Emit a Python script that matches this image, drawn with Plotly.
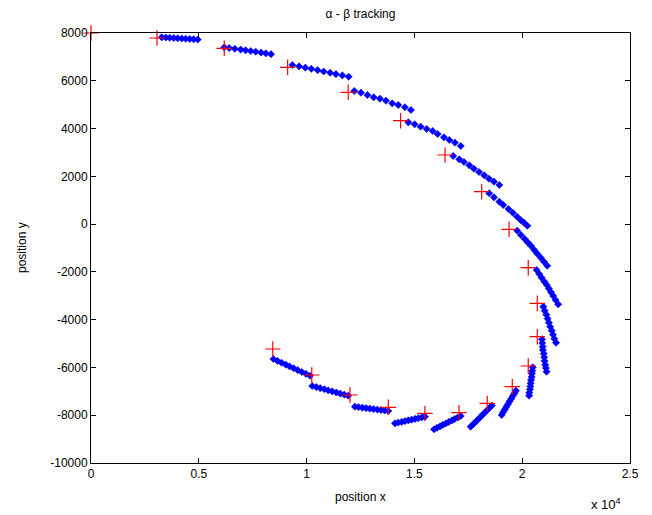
import plotly.graph_objects as go

# Measurements (red +)
meas_x = [0, 3060, 6180, 9120, 11930, 14360, 16420, 18120, 19390, 20280, 20700,
          20700, 20280, 19540, 18380, 17070, 15490, 13790, 12010, 10240, 8430]
meas_y = [8000, 7790, 7360, 6564, 5518, 4329, 2893, 1357, -217, -1825, -3315,
          -4713, -5940, -6806, -7502, -7894, -7921, -7669, -7153, -6316, -5228]

# Alpha-beta estimates / predictions (blue), one list per segment
est_x = [
    [3280, 3470, 3650, 3840, 4020, 4210, 4390, 4580, 4760, 4950],
    [6180, 6410, 6670, 6940, 7170, 7410, 7640, 7890, 8110, 8350],
    [9340, 9650, 9940, 10220, 10510, 10790, 11090, 11360, 11660, 11950],
    [12210, 12520, 12820, 13110, 13400, 13680, 13970, 14250, 14560, 14840],
    [14720, 15010, 15290, 15570, 15850, 16080, 16370, 16620, 16880, 17150],
    [16800, 17080, 17300, 17550, 17760, 18000, 18240, 18460, 18690, 18940],
    [18470, 18690, 18940, 19120, 19360, 19560, 19760, 19930, 20080, 20240],
    [19770, 19940, 20120, 20270, 20410, 20560, 20700, 20860, 21010, 21160],
    [20670, 20790, 20900, 21030, 21140, 21240, 21340, 21440, 21550, 21670],
    [20980, 21040, 21120, 21180, 21240, 21300, 21370, 21430, 21490, 21570],
    [20920, 20930, 20950, 20960, 21000, 21020, 21040, 21070, 21100, 21130],
    [20490, 20470, 20450, 20440, 20410, 20390, 20380, 20360, 20330, 20320],
    [19710, 19640, 19560, 19490, 19410, 19340, 19260, 19190, 19110, 19050],
    [18590, 18480, 18370, 18260, 18150, 18050, 17940, 17830, 17720, 17610],
    [17150, 17010, 16870, 16740, 16600, 16460, 16320, 16190, 16050, 15910],
    [15490, 15340, 15180, 15030, 14870, 14720, 14560, 14410, 14250, 14100],
    [13790, 13620, 13450, 13280, 13100, 12930, 12760, 12590, 12410, 12240],
    [11930, 11750, 11560, 11380, 11190, 11000, 10820, 10630, 10450, 10260],
    [10160, 9970, 9780, 9590, 9400, 9210, 9030, 8840, 8650, 8460],
]
est_y = [
    [7820, 7810, 7800, 7790, 7780, 7770, 7760, 7750, 7740, 7728],
    [7400, 7370, 7340, 7305, 7275, 7245, 7215, 7180, 7150, 7115],
    [6660, 6605, 6550, 6500, 6445, 6390, 6335, 6280, 6225, 6170],
    [5572, 5501, 5405, 5308, 5250, 5166, 5057, 4986, 4890, 4777],
    [4262, 4178, 4078, 3981, 3898, 3772, 3634, 3521, 3408, 3270],
    [2851, 2713, 2600, 2462, 2319, 2181, 2043, 1899, 1776, 1637],
    [1290, 1122, 938, 800, 632, 478, 310, 172, 59, -67],
    [-276, -456, -623, -778, -916, -1084, -1239, -1406, -1574, -1741],
    [-1921, -2088, -2243, -2410, -2548, -2703, -2854, -3009, -3177, -3357],
    [-3457, -3625, -3792, -3960, -4127, -4295, -4462, -4630, -4797, -4965],
    [-4822, -4977, -5131, -5270, -5424, -5575, -5730, -5885, -6023, -6178],
    [-5995, -6137, -6262, -6400, -6526, -6664, -6790, -6915, -7057, -7183],
    [-6973, -7086, -7199, -7312, -7425, -7538, -7651, -7764, -7877, -7991],
    [-7600, -7698, -7796, -7894, -7992, -8090, -8188, -8286, -8384, -8480],
    [-8033, -8095, -8157, -8218, -8280, -8342, -8404, -8465, -8527, -8589],
    [-8062, -8093, -8123, -8154, -8185, -8215, -8246, -8277, -8307, -8338],
    [-7823, -7803, -7783, -7763, -7743, -7723, -7703, -7683, -7663, -7643],
    [-7183, -7138, -7093, -7048, -7003, -6957, -6912, -6867, -6822, -6777],
    [-6346, -6268, -6191, -6113, -6035, -5958, -5880, -5802, -5725, -5647],
]

x_tickvals = [0, 5000, 10000, 15000, 20000, 25000]
x_ticktext = ["0", "0.5", "1", "1.5", "2", "2.5"]
y_tickvals = [8000, 6000, 4000, 2000, 0, -2000, -4000, -6000, -8000, -10000]
y_ticktext = ["8000", "6000", "4000", "2000", "0", "-2000", "-4000", "-6000",
              "-8000", "-10000"]

fig = go.Figure()

for sx, sy in zip(est_x, est_y):
    fig.add_trace(go.Scatter(
        x=sx, y=sy, mode="markers",
        marker=dict(symbol="diamond", size=5.5, color="#0000ff",
                    line=dict(width=0.6, color="#0000ff")),
        showlegend=False, hoverinfo="skip"))

fig.add_trace(go.Scatter(
    x=meas_x, y=meas_y, mode="markers",
    marker=dict(symbol="cross-thin", size=11,
                line=dict(width=1.2, color="#ff0000")),
    cliponaxis=False, showlegend=False))

font = dict(family="Arial, Liberation Sans, sans-serif", size=12, color="black")

# page body has an 8px offset; figure is sized so that the plot area lands
# at x 91..630, y 33..463 of the window
W, H = 644, 507
L, R, T, B = 83, 22, 25, 52

fig.update_layout(
    width=W, height=H,
    margin=dict(l=L, r=R, t=T, b=B),
    paper_bgcolor="white", plot_bgcolor="white",
    font=font,
    title=dict(text="α - β tracking", x=(L + (W - R)) / 2 / W, xanchor="center",
               y=1 - 6 / H, yanchor="middle", font=dict(size=12)),
    xaxis=dict(range=[0, 25000], tickvals=x_tickvals, ticktext=x_ticktext,
               ticks="inside", ticklen=5, tickcolor="black", showgrid=False,
               zeroline=False, showline=True, linecolor="black", linewidth=1,
               mirror="ticks", automargin=False),
    yaxis=dict(range=[-10000, 8000], tickvals=y_tickvals, ticktext=y_ticktext,
               ticks="inside", ticklen=5, tickcolor="black", showgrid=False,
               zeroline=False, showline=True, linecolor="black", linewidth=1,
               mirror="ticks", automargin=False),
    annotations=[
        dict(text="position x", xref="paper", yref="paper",
             x=0.5, y=-34 / 430, xanchor="center", yanchor="middle",
             showarrow=False, font=dict(size=12)),
        dict(text="position y", xref="paper", yref="paper",
             x=-69 / 539, y=0.5, xanchor="center", yanchor="middle",
             textangle=-90, showarrow=False, font=dict(size=12)),
        dict(text="x 10<sup>4</sup>", xref="paper", yref="paper",
             x=(623 - 91) / 539, y=-(514 - 463) / 430, xanchor="right",
             yanchor="bottom", showarrow=False, font=dict(size=13)),
    ],
)

fig.write_html("out.html")
